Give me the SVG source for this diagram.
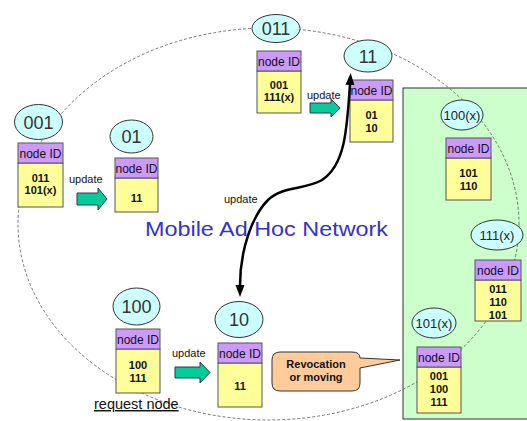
<svg xmlns="http://www.w3.org/2000/svg" width="527" height="421" viewBox="0 0 527 421">
  <style>
    .bubble { fill: #ccffff; stroke: #333; stroke-width: 1; }
    .bubble-label { font-family: "Liberation Sans", Arial, sans-serif; font-size: 18px; fill: #333; text-anchor: middle; }
    .bubble-label-sm { font-family: "Liberation Sans", Arial, sans-serif; font-size: 13px; fill: #222; text-anchor: middle; }
    .hdr { fill: #cc99ff; stroke: #555; stroke-width: 1; }
    .body { fill: #ffff99; stroke: #555; stroke-width: 1; }
    .hdr-text { font-family: "Liberation Sans", Arial, sans-serif; font-size: 12px; fill: #111; text-anchor: middle; }
    .ids { font-family: "Liberation Sans", Arial, sans-serif; font-size: 11px; font-weight: bold; fill: #111; text-anchor: middle; }
    .lbl { font-family: "Liberation Sans", Arial, sans-serif; font-size: 11px; fill: #111; }
    .fat-arrow { fill: #00cc99; stroke: #335; stroke-width: 1; }
    .ring { fill: none; stroke: #555; stroke-width: 0.8; stroke-dasharray: 3 2; }
  </style>
  <defs>
    <marker id="head" markerUnits="userSpaceOnUse" markerWidth="13" markerHeight="10" refX="1" refY="4.5" orient="auto-start-reverse">
      <path d="M0,0 L12,4.5 L0,9 z" fill="#000"/>
    </marker>
  </defs>

  <rect width="527" height="421" fill="#fff"/>

  <!-- revoked / moved area -->
  <rect x="403" y="88" width="130" height="331" fill="#ccffcc" stroke="#333" stroke-width="1"/>

  <!-- network boundary -->
  <ellipse class="ring" cx="268.5" cy="224" rx="250.5" ry="196"/>

  <text x="145" y="236" font-family="'Liberation Sans', Arial, sans-serif" font-size="21" fill="#3333cc" textLength="243" lengthAdjust="spacingAndGlyphs">Mobile Ad Hoc Network</text>

  <!-- node 001 -->
  <g id="node-001">
    <ellipse class="bubble" cx="38.5" cy="122" rx="24" ry="17.5"/>
    <text class="bubble-label" x="38.5" y="128.5">001</text>
    <rect class="body" x="18" y="163" width="45" height="44"/>
    <rect class="hdr" x="18" y="143" width="45" height="20"/>
    <text class="hdr-text" x="40.5" y="157.5">node ID</text>
    <text class="ids" x="40.5" y="182">011</text>
    <text class="ids" x="40.5" y="194">101(x)</text>
  </g>

  <!-- node 01 -->
  <g id="node-01">
    <ellipse class="bubble" cx="131.5" cy="136.5" rx="21.5" ry="16.5"/>
    <text class="bubble-label" x="131.5" y="143">01</text>
    <rect class="body" x="115" y="178" width="43" height="34"/>
    <rect class="hdr" x="115" y="158" width="43" height="20"/>
    <text class="hdr-text" x="136.5" y="172.5">node ID</text>
    <text class="ids" x="136.5" y="202">11</text>
  </g>

  <!-- node 011 -->
  <g id="node-011">
    <ellipse class="bubble" cx="276" cy="28.5" rx="24" ry="14"/>
    <text class="bubble-label" x="276" y="35">011</text>
    <rect class="body" x="257" y="71" width="44" height="42"/>
    <rect class="hdr" x="257" y="51" width="44" height="20"/>
    <text class="hdr-text" x="279" y="65.5">node ID</text>
    <text class="ids" x="279" y="89">001</text>
    <text class="ids" x="279" y="101">111(x)</text>
  </g>

  <!-- node 11 -->
  <g id="node-11">
    <ellipse class="bubble" cx="368" cy="56" rx="24" ry="16"/>
    <text class="bubble-label" x="368" y="62.5">11</text>
    <rect class="body" x="350" y="100" width="43" height="42"/>
    <rect class="hdr" x="350" y="80" width="43" height="20"/>
    <text class="hdr-text" x="371.5" y="94.5">node ID</text>
    <text class="ids" x="371.5" y="119">01</text>
    <text class="ids" x="371.5" y="132">10</text>
  </g>

  <!-- node 100(x) -->
  <g id="node-100x">
    <ellipse class="bubble" cx="462" cy="115" rx="21" ry="15"/>
    <text class="bubble-label-sm" x="462" y="120">100(x)</text>
    <rect class="body" x="446" y="158" width="45" height="42"/>
    <rect class="hdr" x="446" y="138" width="45" height="20"/>
    <text class="hdr-text" x="468.5" y="152.5">node ID</text>
    <text class="ids" x="468.5" y="177">101</text>
    <text class="ids" x="468.5" y="190">110</text>
  </g>

  <!-- node 111(x) -->
  <g id="node-111x">
    <ellipse class="bubble" cx="497" cy="235" rx="26" ry="15"/>
    <text class="bubble-label-sm" x="497" y="240">111(x)</text>
    <rect class="body" x="475" y="280" width="46" height="41"/>
    <rect class="hdr" x="475" y="260" width="46" height="20"/>
    <text class="hdr-text" x="498" y="274.5">node ID</text>
    <text class="ids" x="498" y="293">011</text>
    <text class="ids" x="498" y="306">110</text>
    <text class="ids" x="498" y="319">101</text>
  </g>

  <!-- node 101(x) -->
  <g id="node-101x">
    <ellipse class="bubble" cx="434" cy="323" rx="22" ry="15"/>
    <text class="bubble-label-sm" x="434" y="328">101(x)</text>
    <rect class="body" x="417" y="367" width="44" height="46"/>
    <rect class="hdr" x="417" y="347" width="44" height="20"/>
    <text class="hdr-text" x="439" y="361.5">node ID</text>
    <text class="ids" x="439" y="380">001</text>
    <text class="ids" x="439" y="393">100</text>
    <text class="ids" x="439" y="406">111</text>
  </g>

  <!-- node 100 (request node) -->
  <g id="node-100">
    <ellipse class="bubble" cx="136.5" cy="306.5" rx="23.5" ry="18.5"/>
    <text class="bubble-label" x="136.5" y="313">100</text>
    <rect class="body" x="116" y="349" width="44" height="44"/>
    <rect class="hdr" x="116" y="329" width="44" height="20"/>
    <text class="hdr-text" x="138" y="343.5">node ID</text>
    <text class="ids" x="138" y="369">100</text>
    <text class="ids" x="138" y="382">111</text>
    <text x="94" y="409" font-family="'Liberation Sans', Arial, sans-serif" font-size="14.5" fill="#111" text-decoration="underline">request node</text>
  </g>

  <!-- node 10 -->
  <g id="node-10">
    <ellipse class="bubble" cx="239" cy="319.5" rx="24" ry="18"/>
    <text class="bubble-label" x="239" y="326">10</text>
    <rect class="body" x="218" y="363" width="44" height="44"/>
    <rect class="hdr" x="218" y="343" width="44" height="20"/>
    <text class="hdr-text" x="240" y="357.5">node ID</text>
    <text class="ids" x="240" y="390">11</text>
  </g>

  <!-- revocation callout -->
  <g id="callout">
    <path d="M280,352 H352 Q360,352 360,358 L400,360 L360,368 V383 Q360,391 352,391 H280 Q272,391 272,383 V360 Q272,352 280,352 Z" fill="#ffcc99" stroke="#333" stroke-width="1"/>
    <text class="ids" x="316" y="368" font-weight="normal">Revocation</text>
    <text class="ids" x="316" y="381" font-weight="normal">or moving</text>
  </g>

  <!-- connectors -->
  <g id="connectors">
    <text class="lbl" x="69" y="183">update</text>
    <path class="fat-arrow" d="M77,193 H98 V188 L107,199 L98,210 V205 H77 Z"/>

    <text class="lbl" x="307" y="99">update</text>
    <path class="fat-arrow" d="M310,103 H331 V99 L340,108 L331,117 V113 H310 Z"/>

    <text class="lbl" x="172" y="357">update</text>
    <path class="fat-arrow" d="M175,367 H200 V362 L210,372.5 L200,383 V378 H175 Z"/>

    <text class="lbl" x="224" y="203">update</text>
    <path d="M350,84 C347,130 345,165 322,180 C305,190 282,186 268,200 C252,216 240,250 240,286" fill="none" stroke="#000" stroke-width="2.5" marker-start="url(#head)" marker-end="url(#head)"/>
  </g>
</svg>
